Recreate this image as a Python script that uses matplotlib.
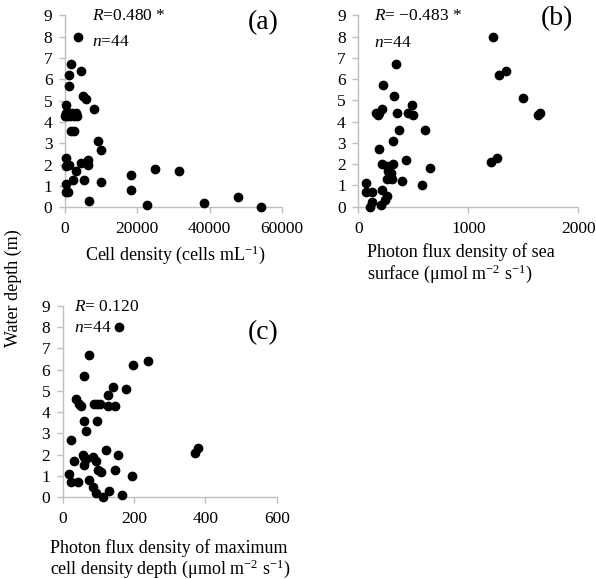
import matplotlib
matplotlib.use("Agg")
import matplotlib.pyplot as plt

plt.rcParams['font.family'] = ['Liberation Serif', 'DejaVu Serif']
plt.rcParams['mathtext.fontset'] = 'custom'
plt.rcParams['mathtext.rm'] = 'Liberation Serif'
plt.rcParams['mathtext.it'] = 'Liberation Serif:italic'

# Panel (a): cell density vs depth
cell_density = [3700, 1650, 4350, 1200, 1200, 4900, 5800, 350, 8000,
                0, 150, 600, 1100, 1500, 2000, 2500, 3000, 3300,
                1600, 2500, 9000, 9900, 400, 300, 1200, 4350, 6450, 6350,
                3050, 2300, 5150, 9900, 18200, 18200, 25000, 31400,
                300, 400, 800, 6500, 22800, 38300, 47700, 54200]
depth_a = [8.0, 6.7, 6.4, 6.2, 5.7, 5.2, 5.1, 4.8, 4.6,
           4.3, 4.4, 4.3, 4.4, 4.3, 4.4, 4.3, 4.4, 4.3,
           3.6, 3.6, 3.1, 2.7, 2.3, 1.95, 2.0, 2.1, 2.2, 2.0,
           1.7, 1.3, 1.3, 1.2, 1.5, 0.8, 1.8, 1.7,
           1.1, 0.7, 0.7, 0.3, 0.1, 0.2, 0.5, 0.0]

# Panel (b): photon flux density of sea surface vs depth
pfd_surface = [1222, 339, 1340, 1282, 224, 327, 1494, 491, 218,
               158, 176, 188, 351, 448, 500, 1636, 1650,
               373, 609, 312, 188, 1264, 1210, 433, 212, 318,
               258, 273, 651, 288, 258, 303, 394, 67, 576,
               218, 67, 121, 258, 242, 206, 121, 106, 300]
depth_b = [8.0, 6.7, 6.4, 6.2, 5.7, 5.2, 5.1, 4.8, 4.6,
           4.4, 4.3, 4.4, 4.4, 4.4, 4.3, 4.3, 4.4,
           3.6, 3.6, 3.1, 2.7, 2.3, 2.1, 2.2, 2.0, 2.0,
           1.9, 1.7, 1.8, 1.5, 1.3, 1.3, 1.2, 1.1, 1.0,
           0.8, 0.7, 0.7, 0.5, 0.3, 0.1, 0.2, 0.0, 1.6]

# Panel (c): photon flux density at max cell density depth vs depth
pfd_maxdepth = [159, 75, 196, 240, 60, 142, 178, 128, 37, 45, 50,
                88, 105, 128, 148, 60, 95, 65, 22, 121, 56, 86, 154,
                65, 33, 93, 60, 100, 106, 147, 18, 193, 22, 44, 75,
                86, 92, 114, 131, 167, 371, 380, 97, 60]
depth_c = [8.0, 6.7, 6.2, 6.4, 5.7, 5.2, 5.1, 4.8, 4.6, 4.4, 4.3,
           4.4, 4.4, 4.3, 4.3, 3.6, 3.6, 3.1, 2.7, 2.2, 2.0, 1.9, 2.0,
           1.8, 1.7, 1.7, 1.5, 1.3, 1.2, 1.3, 1.1, 1.0, 0.7, 0.7, 0.8,
           0.5, 0.2, 0.0, 0.3, 0.1, 2.1, 2.3, 4.4, 1.9]

y_ticks = [0, 1, 2, 3, 4, 5, 6, 7, 8, 9]
xticks_a = [0, 20000, 40000, 60000]
xticks_b = [0, 1000, 2000]
xticks_c = [0, 200, 400, 600]

W, H = 596, 579
fig = plt.figure(figsize=(W / 100, H / 100), dpi=100)


def make_ax(left, top, right, bottom):
    return fig.add_axes([left / W, 1 - bottom / H, (right - left) / W, (bottom - top) / H])


gray = '#bfbfbf'
tick_fs = 12.5


def style(ax, xticks):
    for s in ['top', 'right']:
        ax.spines[s].set_visible(False)
    for s in ['left', 'bottom']:
        ax.spines[s].set_color(gray)
        ax.spines[s].set_linewidth(1.0)
    ax.set_ylim(0, 9)
    ax.set_yticks(y_ticks)
    ax.set_xlim(xticks[0], xticks[-1])
    ax.set_xticks(xticks)
    ax.tick_params(direction='out', length=4, width=1.0, color=gray,
                   labelsize=tick_fs)
    ax.tick_params(axis='x', pad=6)
    ax.tick_params(axis='y', pad=5)
    ax.patch.set_alpha(0)


ms = 36
ax_a = make_ax(65, 15.3, 282, 207.3)
ax_a.scatter(cell_density, depth_a, s=ms, color='black', clip_on=False, zorder=3)
style(ax_a, xticks_a)
ax_a.text(7600, 8.95, r'$R$=0.480 *', fontsize=12.5, va='center', ha='left')
ax_a.text(7600, 7.75, r'$n$=44', fontsize=12.5, va='center', ha='left')
ax_a.text(54700, 8.64, '(a)', fontsize=20, va='center', ha='center')

ax_b = make_ax(358.3, 15.3, 578.3, 206.7)
ax_b.scatter(pfd_surface, depth_b, s=ms, color='black', clip_on=False, zorder=3)
style(ax_b, xticks_b)
ax_b.text(143, 8.95, r'$R$= −0.483 *', fontsize=12.5, va='center', ha='left')
ax_b.text(143, 7.7, r'$n$=44', fontsize=12.5, va='center', ha='left')
ax_b.text(1803, 8.85, '(b)', fontsize=20, va='center', ha='center')

ax_c = make_ax(62.7, 305.7, 276.7, 497.3)
ax_c.scatter(pfd_maxdepth, depth_c, s=ms, color='black', clip_on=False, zorder=3)
style(ax_c, xticks_c)
ax_c.text(32, 8.95, r'$R$= 0.120', fontsize=12.5, va='center', ha='left')
ax_c.text(32, 7.94, r'$n$=44', fontsize=12.5, va='center', ha='left')
ax_c.text(562, 7.72, '(c)', fontsize=20, va='center', ha='center')

lab_fs = 13
fig.text(175 / W, 1 - 255 / H, r'Cell density (cells mL$^{-1}$)', fontsize=lab_fs,
         ha='center', va='center')
fig.text(367 / W, 1 - 252 / H, 'Photon flux density of sea', fontsize=lab_fs,
         ha='left', va='center')
fig.text(367 / W, 1 - 274 / H, r'surface (μmol m$^{-2}$ s$^{-1}$)', fontsize=lab_fs,
         ha='left', va='center')
fig.text(50 / W, 1 - 548 / H, 'Photon flux density of maximum', fontsize=lab_fs,
         ha='left', va='center')
fig.text(50 / W, 1 - 569 / H, r'cell density depth (μmol m$^{-2}$ s$^{-1}$)', fontsize=lab_fs,
         ha='left', va='center')
fig.text(13 / W, 1 - 288 / H, 'Water depth (m)', fontsize=lab_fs, rotation=90,
         ha='center', va='center')

fig.savefig('out.png', dpi=100, facecolor='white')
